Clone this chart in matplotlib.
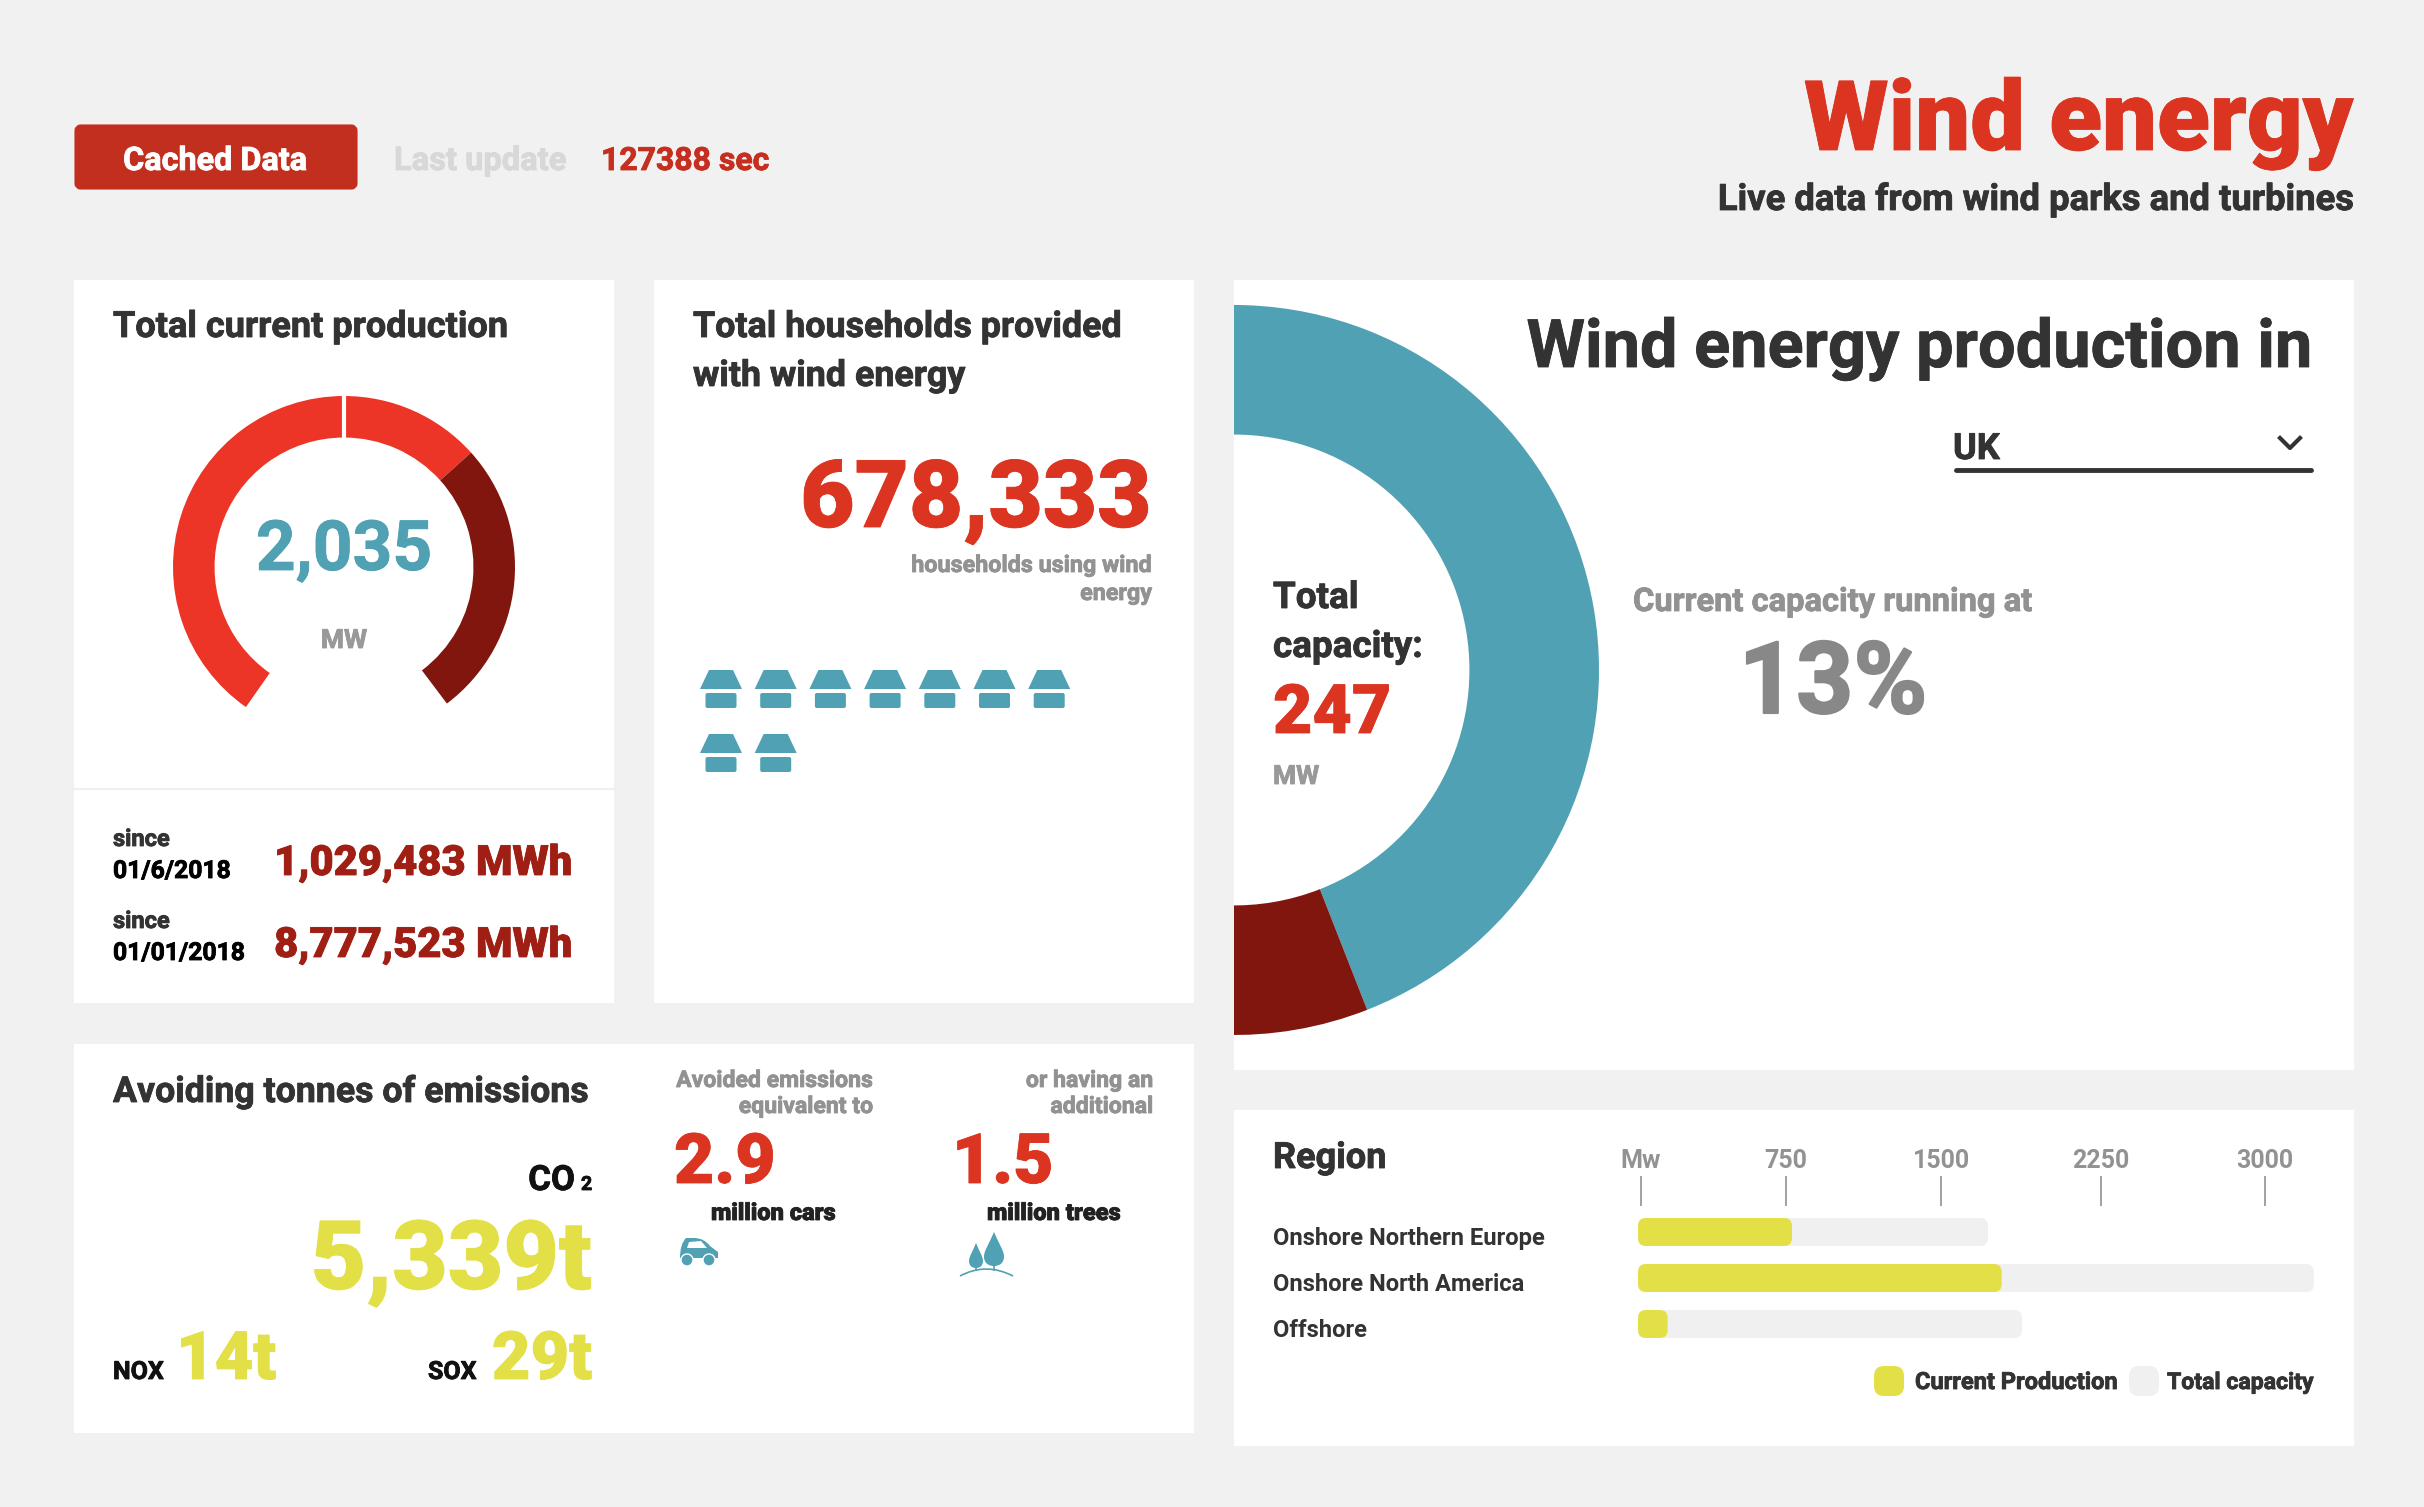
import matplotlib
matplotlib.use('Agg')
import matplotlib.pyplot as plt
import matplotlib.patheffects as pe
from matplotlib.patches import Rectangle, FancyBboxPatch, Polygon, PathPatch, Circle
from matplotlib.path import Path

W, H = 2424, 1507

# data
gauge_values = [145, 48, 95, 72]  # left of tick, right of tick, remainder, empty part
donut_values = [87, 13]
regions = ['Onshore Northern Europe', 'Onshore North America', 'Offshore']
current_production = [737, 1740, 142]
total_capacity = [1675, 3234, 1837]
tick_values = [14, 708, 1450, 2215, 3000]
tick_labels = ['Mw', '750', '1500', '2250', '3000']
houses_per_row = [7, 2]

# colours
BG = '#f1f1f1'
DARK = '#333333'
RED = '#db3522'
GAUGE_RED = '#ec3527'
MAROON = '#80160e'
DEEP_RED = '#a01f14'
TEAL = '#4fa1b3'
YELLOW = '#e3e047'
GREY = '#929292'

plt.rcParams['font.family'] = ['Roboto', 'DejaVu Sans']

fig = plt.figure(figsize=(W / 100, H / 100), dpi=100, facecolor=BG)


def px_axes(left, top, right, bottom):
    return fig.add_axes([left / W, 1 - bottom / H, (right - left) / W, (bottom - top) / H])


bg = px_axes(0, 0, W, H)
bg.set_xlim(0, W)
bg.set_ylim(H, 0)
bg.axis('off')


def label(x, y, s, size, color=DARK, weight='bold', ha='left', stroke=0.6):
    t = bg.text(x, y, s, fontsize=size, color=color, fontweight=weight, ha=ha, va='baseline')
    if stroke:
        t.set_path_effects([pe.withStroke(linewidth=stroke, foreground=color)])


# cards
for x0, y0, x1, y1 in [(74, 280, 614, 1003), (654, 280, 1194, 1003), (74, 1044, 1194, 1433),
                       (1234, 280, 2354, 1070), (1234, 1110, 2354, 1446)]:
    bg.add_patch(Rectangle((x0, y0), x1 - x0, y1 - y0, fc='white', ec='none'))
bg.plot([74, 614], [789, 789], color='#f0f0f0', lw=1.5)

# header
bg.add_patch(FancyBboxPatch((80, 130), 272, 54, boxstyle='round,pad=0,rounding_size=1', fc='#c22f1f',
                            ec='#c22f1f', lw=8))
label(215, 170, 'Cached Data', 23.3, 'white', ha='center')
label(394, 170, 'Last update', 23.5, '#d8d8d8')
label(601, 170, '127388 sec', 23, '#c62f20')
label(2353, 150, 'Wind energy', 70, RED, 'black', 'right')
label(2353, 210, 'Live data from wind parks and turbines', 26.2, DARK, 'bold', 'right')

# total production
label(113, 337, 'Total current production', 26)
label(344, 570, '2,035', 50, TEAL, 'bold', 'center')
label(344, 648, 'MW', 19, '#999999', 'bold', 'center')
ax = px_axes(344 - 175, 567 - 175, 344 + 175, 567 + 175)
ax.pie(gauge_values, colors=[GAUGE_RED, GAUGE_RED, MAROON, 'none'], startangle=235, counterclock=False,
       radius=1, wedgeprops=dict(width=0.243, linewidth=0))
ax.plot([0, 0], [0.7, 1.02], color='white', lw=3)
ax.set_xlim(-175 / 171, 175 / 171)
ax.set_ylim(-175 / 171, 175 / 171)

label(113, 846, 'since', 17)
label(113, 878, '01/6/2018', 17.8, '#000000')
label(113, 928, 'since', 17)
label(113, 960, '01/01/2018', 17.8, '#000000')
label(572, 875, '1,029,483 MWh', 30, DEEP_RED, 'black', 'right')
label(572, 957, '8,777,523 MWh', 30, DEEP_RED, 'black', 'right')

# households
label(693, 337, 'Total households provided', 25.8)
label(693, 386, 'with wind energy', 25.8)
label(1152, 527, '678,333', 67.5, RED, 'black', 'right')
label(1152, 572, 'households using wind', 16.8, GREY, 'bold', 'right')
label(1152, 600, 'energy', 16.8, GREY, 'bold', 'right')
for row, count in enumerate(houses_per_row):
    top = 670 + row * 64
    for i in range(count):
        cx = 721 + i * 54.7
        bg.add_patch(Polygon([(cx - 12, top), (cx + 12, top), (cx + 21, top + 19), (cx - 21, top + 19)],
                             fc=TEAL, ec='none'))
        bg.add_patch(FancyBboxPatch((cx - 15.5, top + 23), 31, 15, boxstyle='round,pad=0,rounding_size=2',
                                    fc=TEAL, ec='none'))

# emissions
label(113, 1102, 'Avoiding tonnes of emissions', 25.7)
label(575, 1190, 'CO', 25, '#111111', 'bold', 'right')
label(581, 1190, '2', 14, '#111111')
label(592, 1289, '5,339t', 69, YELLOW, 'black', 'right')
label(113, 1379, 'NOX', 18, '#111111')
label(176, 1379, '14t', 48, YELLOW, 'black')
label(428, 1379, 'SOX', 18, '#111111')
label(592, 1379, '29t', 48, YELLOW, 'black', 'right')
label(873, 1087, 'Avoided emissions', 16.6, GREY, 'bold', 'right')
label(873, 1113, 'equivalent to', 16.6, GREY, 'bold', 'right')
label(1153, 1087, 'or having an', 16.6, GREY, 'bold', 'right')
label(1153, 1113, 'additional', 16.6, GREY, 'bold', 'right')
label(674, 1183, '2.9', 50, RED, 'black')
label(952, 1183, '1.5', 50, RED, 'black')
label(711, 1220, 'million cars', 17, '#222222', 'black')
label(987, 1220, 'million trees', 17, '#222222', 'black')

# car icon
car = Path([(680, 1258), (680, 1244), (686, 1238), (694, 1238), (704, 1238), (710, 1246), (718, 1252),
            (718, 1258), (680, 1258)],
           [Path.MOVETO, Path.CURVE3, Path.CURVE3, Path.LINETO, Path.CURVE3, Path.CURVE3, Path.LINETO,
            Path.LINETO, Path.CLOSEPOLY])
bg.add_patch(PathPatch(car, fc=TEAL, ec='none'))
bg.add_patch(Polygon([(689, 1242), (701, 1241), (707, 1248), (687, 1248)], fc='white', ec='none'))
for wx in (687, 709):
    bg.add_patch(Circle((wx, 1260), 6, fc=TEAL, ec='white', lw=1))

# tree icon
for tx, ty, tw, th in [(976, 1243, 7, 25), (994, 1232, 10, 34)]:
    drop = Path([(tx, ty),
                 (tx + tw * 0.5, ty + th * 0.35), (tx + tw, ty + th * 0.55), (tx + tw, ty + th * 0.72),
                 (tx + tw, ty + th * 0.9), (tx + tw * 0.6, ty + th), (tx, ty + th),
                 (tx - tw * 0.6, ty + th), (tx - tw, ty + th * 0.9), (tx - tw, ty + th * 0.72),
                 (tx - tw, ty + th * 0.55), (tx - tw * 0.5, ty + th * 0.35), (tx, ty)],
                [Path.MOVETO] + [Path.CURVE4] * 12)
    bg.add_patch(PathPatch(drop, fc=TEAL, ec='none'))
    bg.plot([tx, tx], [ty + th - 2, 1270], color=TEAL, lw=1.2)
bg.add_patch(PathPatch(Path([(960, 1276), (986, 1262), (1013, 1276)], [Path.MOVETO, Path.CURVE3, Path.CURVE3]),
                       fc='none', ec=TEAL, lw=1.2))

# wind energy production donut, cut by the left edge of the card
ax = px_axes(1234, 670 - 370, 1234 + 370, 670 + 370)
wedges, _ = ax.pie(donut_values, colors=[TEAL, MAROON], startangle=244.6, counterclock=False, radius=1,
                   wedgeprops=dict(width=0.355, linewidth=0))
for w in wedges:
    w.set_clip_on(True)
    w.set_clip_path(ax.patch)
ax.set_xlim(0, 370 / 365)
ax.set_ylim(-370 / 365, 370 / 365)

label(2312, 367, 'Wind energy production in', 48, DARK, 'bold', 'right')
label(1953, 459, 'UK', 26, DARK)
bg.plot([2280, 2290, 2300], [438, 448, 438], color=DARK, lw=3)
bg.plot([1956, 2311], [470, 470], color=DARK, lw=3.5, solid_capstyle='round')
label(1273, 608, 'Total', 26.5)
label(1273, 657, 'capacity:', 26.5)
label(1273, 733, '247', 49, RED, 'black')
label(1273, 784, 'MW', 19, '#999999')
label(1633, 611, 'Current capacity running at', 23.5, GREY, 'bold')
label(1833, 713, '13%', 72, '#888888', 'bold', 'center', stroke=1.5)

# region bars
label(1273, 1168, 'Region', 26)
ax = px_axes(1638, 1206, 2340, 1345)
ax.set_xlim(0, 702 / 0.209)
ax.set_ylim((1345 - 1232) / 46, (1206 - 1232) / 46)
x_radius = 8 / 0.209
y_scale = (8 / 46) / x_radius
for values, colour in [(total_capacity, '#f0f0f0'), (current_production, YELLOW)]:
    for i, v in enumerate(values):
        ax.add_patch(FancyBboxPatch((0, i - 14 / 46), v, 28 / 46,
                                    boxstyle=f'round,pad=0,rounding_size={x_radius}',
                                    mutation_aspect=y_scale, fc=colour, ec='none'))
ax.xaxis.tick_top()
ax.set_xticks(tick_values, tick_labels, color=GREY, fontsize=18, fontweight='bold')
ax.tick_params(axis='x', length=21.6, width=1.1, color='#888888', pad=2)
ax.set_yticks([i + 4 / 46 for i in range(len(regions))], regions, ha='left', color=DARK,
              fontsize=17.1, fontweight='bold')
ax.tick_params(axis='y', length=0, pad=(1638 - 1273) * 0.72)
for spine in ax.spines.values():
    spine.set_visible(False)
ax.patch.set_visible(False)

# legend
for x0, colour in [(1874, YELLOW), (2129, '#f0f0f0')]:
    bg.add_patch(FancyBboxPatch((x0, 1366), 30, 30, boxstyle='round,pad=0,rounding_size=10', fc=colour, ec='none'))
label(1915, 1389, 'Current Production', 17, DARK, 'bold')
label(2167, 1389, 'Total capacity', 16.6, DARK, 'bold')

fig.savefig('out.png', dpi=100, facecolor=BG)
